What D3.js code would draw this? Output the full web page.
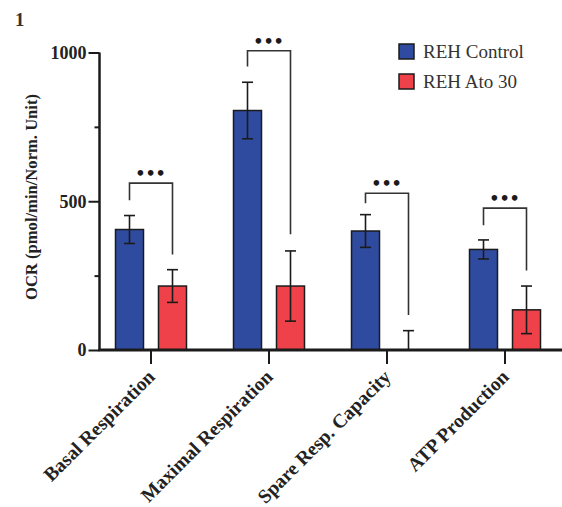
<!DOCTYPE html>
<html>
<head>
<meta charset="utf-8">
<script src="https://cdn.jsdelivr.net/npm/d3@7"></script>
<style>
  body { margin: 0; background: #fff; }
  svg { display: block; }
</style>
</head>
<body>
<div id="chart"></div>
<script>
const categories = ["Basal Respiration", "Maximal Respiration", "Spare Resp. Capacity", "ATP Production"];
const groups = ["REH Control", "REH Ato 30"];
const controlMean = [405, 805, 400, 338];
const controlErr = [47, 95, 55, 32];
const atoMean = [215, 215, 0, 135];
const atoErr = [55, 118, 65, 80];
// significance brackets (data units): top, left leg end, right leg end
const sigTop = [561, 1006, 527, 477];
const sigLeft = [503, 953, 493, 419];
const sigRight = [321, 389, 118, 267];
const sigLabel = ["***", "***", "***", "***"];
const yTicks = [0, 500, 1000];
const yMinorTicks = [250, 750];

const width = 562;
const height = 507;
const colors = { "REH Control": "#2f4ba0", "REH Ato 30": "#ef4149" };
const serif = "'Liberation Serif', 'Times New Roman', serif";

const svg = d3.select("#chart").append("svg")
  .attr("width", width)
  .attr("height", height);

const x0 = d3.scaleBand().domain(categories).range([92, 564]);
const x1 = d3.scaleBand().domain(groups).range([23.5, 94.5]).paddingInner(15 / 43);
const y = d3.scaleLinear().domain([0, 1000]).range([350, 52.5]);

const data = categories.map((c, i) => ({
  cat: c,
  vals: [
    { g: groups[0], mean: controlMean[i], err: controlErr[i] },
    { g: groups[1], mean: atoMean[i], err: atoErr[i] }
  ]
}));

// panel number
svg.append("text")
  .attr("x", 15).attr("y", 26)
  .attr("font-family", serif)
  .attr("font-size", 19)
  .attr("font-weight", "bold")
  .attr("fill", "#333")
  .text("1");

// bars
const cg = svg.append("g").selectAll("g")
  .data(data)
  .join("g")
  .attr("transform", d => `translate(${x0(d.cat)},0)`);

cg.selectAll("rect")
  .data(d => d.vals)
  .join("rect")
  .attr("x", d => x1(d.g))
  .attr("width", x1.bandwidth())
  .attr("y", d => y(d.mean))
  .attr("height", d => y(0) - y(d.mean))
  .attr("fill", d => colors[d.g])
  .attr("stroke", d => d.mean > 0 ? "#1b1b1b" : "none")
  .attr("stroke-width", 1.5);

// error bars
const eb = cg.selectAll("g.err")
  .data(d => d.vals)
  .join("g")
  .attr("class", "err")
  .attr("stroke", "#1b1b1b")
  .attr("stroke-width", 1.6);

const cap = 5.5;
eb.append("line")
  .attr("x1", d => x1(d.g) + x1.bandwidth() / 2)
  .attr("x2", d => x1(d.g) + x1.bandwidth() / 2)
  .attr("y1", d => y(Math.max(0, d.mean - d.err)))
  .attr("y2", d => y(d.mean + d.err));
eb.append("line")
  .attr("x1", d => x1(d.g) + x1.bandwidth() / 2 - cap)
  .attr("x2", d => x1(d.g) + x1.bandwidth() / 2 + cap)
  .attr("y1", d => y(d.mean + d.err))
  .attr("y2", d => y(d.mean + d.err));
eb.filter(d => d.mean - d.err > 0).append("line")
  .attr("x1", d => x1(d.g) + x1.bandwidth() / 2 - cap)
  .attr("x2", d => x1(d.g) + x1.bandwidth() / 2 + cap)
  .attr("y1", d => y(d.mean - d.err))
  .attr("y2", d => y(d.mean - d.err));

// significance brackets
const sig = svg.append("g").selectAll("g")
  .data(categories)
  .join("g");

sig.append("path")
  .attr("fill", "none")
  .attr("stroke", "#333")
  .attr("stroke-width", 1.6)
  .attr("d", (c, i) => {
    const xl = x0(c) + x1(groups[0]) + x1.bandwidth() / 2;
    const xr = x0(c) + x1(groups[1]) + x1.bandwidth() / 2;
    return `M${xl},${y(sigLeft[i])}V${y(sigTop[i])}H${xr}V${y(sigRight[i])}`;
  });

sig.append("text")
  .attr("x", c => x0(c) + x0.bandwidth() / 2 - 0.5)
  .attr("y", (c, i) => y(sigTop[i]) - 4)
  .attr("text-anchor", "middle")
  .attr("font-family", "'DejaVu Sans', sans-serif")
  .attr("font-size", 16)
  .attr("font-weight", "bold")
  .attr("fill", "#1b1b1b")
  .text((c, i) => sigLabel[i].replace(/\*/g, "\u2022"));

// y axis
const yAxis = svg.append("g")
  .attr("transform", "translate(99.5,0)")
  .call(d3.axisLeft(y).tickValues(yTicks).tickSize(11).tickPadding(2).tickFormat(d3.format("d")));
yAxis.select(".domain").attr("stroke", "#1b1b1b").attr("stroke-width", 2.5)
  .attr("d", `M0,${y(1000)}V${y(0)}`);
yAxis.selectAll(".tick line").attr("stroke", "#1b1b1b").attr("stroke-width", 2);
yAxis.selectAll(".tick text")
  .attr("font-family", serif)
  .attr("font-size", 18)
  .attr("font-weight", "bold")
  .attr("fill", "#222");

const yMinor = svg.append("g")
  .attr("transform", "translate(99.5,0)")
  .call(d3.axisLeft(y).tickValues(yMinorTicks).tickSize(5).tickFormat(""));
yMinor.select(".domain").remove();
yMinor.selectAll(".tick line").attr("stroke", "#1b1b1b").attr("stroke-width", 2);

// x axis
const xAxis = svg.append("g")
  .attr("transform", `translate(0,${y(0)})`)
  .call(d3.axisBottom(x0).tickSize(14).tickPadding(0));
xAxis.select(".domain").attr("stroke", "#1b1b1b").attr("stroke-width", 3)
  .attr("d", "M98.5,0H562");
xAxis.selectAll(".tick line").attr("stroke", "#1b1b1b").attr("stroke-width", 2);
xAxis.selectAll(".tick text")
  .attr("font-family", serif)
  .attr("font-size", 19.5)
  .attr("font-weight", "bold")
  .attr("fill", "#222")
  .attr("text-anchor", "end")
  .attr("y", 0)
  .attr("dy", 0)
  .attr("transform", "translate(5,28) rotate(-45)");

// y axis label
svg.append("text")
  .attr("transform", "translate(37,197) rotate(-90)")
  .attr("text-anchor", "middle")
  .attr("font-family", serif)
  .attr("font-size", 16.6)
  .attr("font-weight", "bold")
  .attr("fill", "#222")
  .text("OCR (pmol/min/Norm. Unit)");

// legend
const legend = svg.append("g").selectAll("g")
  .data(groups)
  .join("g")
  .attr("transform", (d, i) => `translate(399,${44 + i * 30})`);
legend.append("rect")
  .attr("width", 15).attr("height", 15)
  .attr("fill", d => colors[d])
  .attr("stroke", "#1b1b1b")
  .attr("stroke-width", 1.5);
legend.append("text")
  .attr("x", 24).attr("y", 13.5)
  .attr("font-family", serif)
  .attr("font-size", 19)
  .attr("fill", "#333")
  .text(d => d);
</script>
</body>
</html>
